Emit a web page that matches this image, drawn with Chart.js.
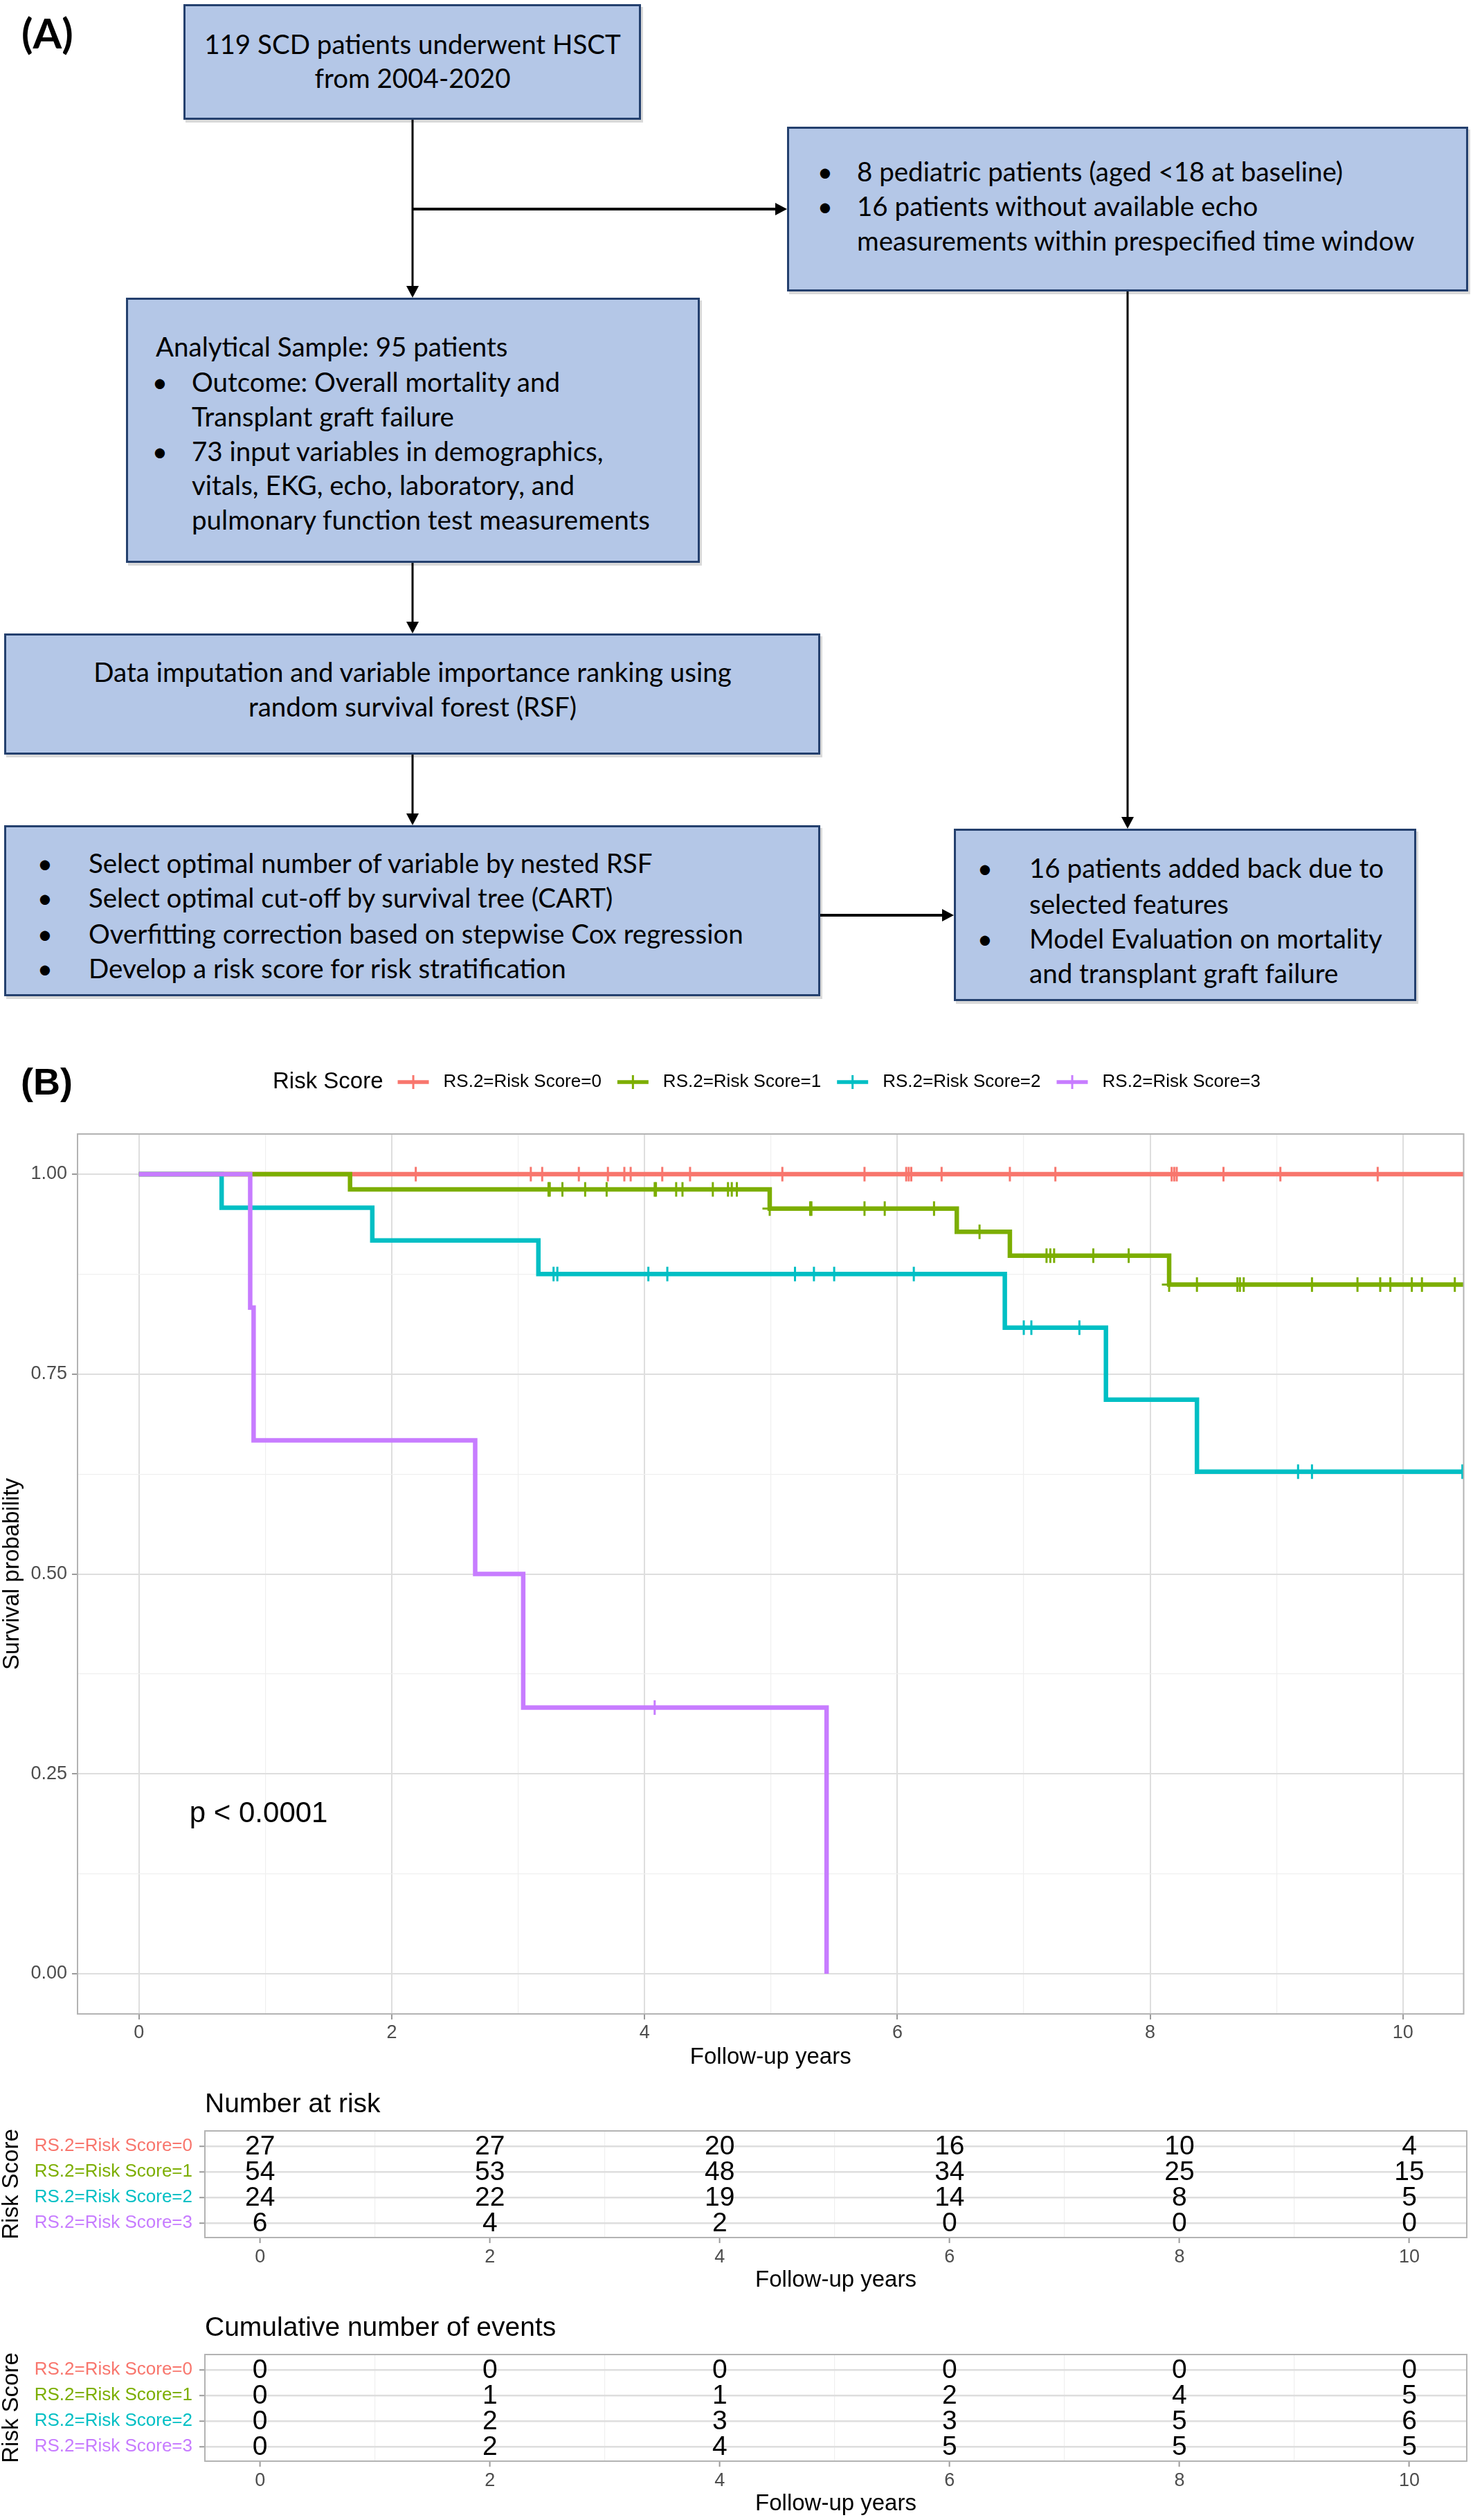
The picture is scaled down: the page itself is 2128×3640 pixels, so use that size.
<!DOCTYPE html>
<html>
<head>
<meta charset="utf-8">
<script src="https://cdn.jsdelivr.net/npm/chart.js@4.4.1/dist/chart.umd.min.js"></script>
<style>
 html,body{margin:0;padding:0;background:#fff;}
 body{position:relative;width:2128px;height:3640px;overflow:hidden;}
 #flow{position:absolute;left:0;top:0;}
 canvas{position:absolute;left:0;}
</style>
</head>
<body>
<svg id="flow" width="2128" height="1480" xmlns="http://www.w3.org/2000/svg"></svg>
<canvas id="km" width="2128" height="1500" style="top:1500px"></canvas>
<canvas id="risk" width="2128" height="330" style="top:3000px"></canvas>
<canvas id="events" width="2128" height="320" style="top:3320px"></canvas>
<script>
// ---------------- DATA ----------------
const groupLabels = ['RS.2=Risk Score=0', 'RS.2=Risk Score=1', 'RS.2=Risk Score=2', 'RS.2=Risk Score=3'];
const groupColors = ['#F8766D', '#7CAE00', '#00BFC4', '#C77CFF'];

// Kaplan-Meier step curves: time of each change and survival from that time on
const kmTime0 = [0, 10.6];
const kmSurv0 = [1, 1];
const kmTime1 = [0, 1.67, 4.99, 6.47, 6.89, 8.15, 10.6];
const kmSurv1 = [1, 0.981, 0.957, 0.928, 0.898, 0.862, 0.862];
const kmTime2 = [0, 0.654, 1.846, 3.16, 6.85, 7.65, 8.37, 10.6];
const kmSurv2 = [1, 0.958, 0.917, 0.875, 0.808, 0.718, 0.628, 0.628];
const kmTime3 = [0, 0.88, 0.907, 2.66, 3.04, 5.44];
const kmSurv3 = [1, 0.833, 0.667, 0.5, 0.333, 0];

// censoring times
const censor0 = [2.19, 3.10, 3.19, 3.48, 3.71, 3.84, 3.89, 4.14, 4.36, 5.09, 5.74, 6.07, 6.09, 6.11, 6.35, 6.89, 7.25, 8.17, 8.19, 8.21, 8.58, 9.03, 9.80];
const censor1 = [3.24, 3.25, 3.35, 3.53, 3.70, 4.08, 4.09, 4.25, 4.30, 4.54, 4.66, 4.69, 4.73, 4.99, 5.31, 5.32, 5.74, 5.90, 6.29, 6.65, 7.18, 7.21, 7.24, 7.55, 7.83, 8.15, 8.37, 8.69, 8.71, 8.74, 9.28, 9.64, 9.82, 9.90, 10.07, 10.15, 10.41];
const censor2 = [3.28, 3.31, 4.03, 4.18, 5.19, 5.34, 5.50, 6.13, 7.00, 7.06, 7.44, 9.17, 9.28, 10.47];
const censor3 = [4.08];

// axis ticks
const xMajor = [0, 2, 4, 6, 8, 10];
const xMinor = [1, 3, 5, 7, 9];
const yMajor = [0, 0.25, 0.5, 0.75, 1];
const yMinor = [0.125, 0.375, 0.625, 0.875];

// tables
const tableTimes = [0, 2, 4, 6, 8, 10];
const atRisk0 = [27, 27, 20, 16, 10, 4];
const atRisk1 = [54, 53, 48, 34, 25, 15];
const atRisk2 = [24, 22, 19, 14, 8, 5];
const atRisk3 = [6, 4, 2, 0, 0, 0];
const events0 = [0, 0, 0, 0, 0, 0];
const events1 = [0, 1, 1, 2, 4, 5];
const events2 = [0, 2, 3, 3, 5, 6];
const events3 = [0, 2, 4, 5, 5, 5];

const pText = 'p < 0.0001';
const pCoord = [0.4, 0.2];

// ---------------- FLOWCHART (panel A) ----------------
const NS = 'http://www.w3.org/2000/svg';
const svg = document.getElementById('flow');
function mk(tag, attrs, parent) { const e = document.createElementNS(NS, tag); for (const k in attrs) e.setAttribute(k, attrs[k]); (parent || svg).appendChild(e); return e; }

const fcLines = [
  [596, 78, '119 SCD patients underwent HSCT', 'middle'],
  [596, 127, 'from 2004-2020', 'middle'],
  [1238, 262, '8 pediatric patients (aged <18 at baseline)'],
  [1238, 312, '16 patients without available echo'],
  [1238, 362, 'measurements within prespecified time window'],
  [225, 515, 'Analytical Sample: 95 patients'],
  [277, 566, 'Outcome: Overall mortality and'],
  [277, 616, 'Transplant graft failure'],
  [277, 666, '73 input variables in demographics,'],
  [277, 715, 'vitals, EKG, echo, laboratory, and'],
  [277, 765, 'pulmonary function test measurements'],
  [596, 985, 'Data imputation and variable importance ranking using', 'middle'],
  [596, 1035, 'random survival forest (RSF)', 'middle'],
  [128, 1261, 'Select optimal number of variable by nested RSF'],
  [128, 1311, 'Select optimal cut-off by survival tree (CART)'],
  [128, 1363, 'Overfitting correction based on stepwise Cox regression'],
  [128, 1413, 'Develop a risk score for risk stratification'],
  [1487, 1268, '16 patients added back due to'],
  [1487, 1320, 'selected features'],
  [1487, 1370, 'Model Evaluation on mortality'],
  [1487, 1420, 'and transplant graft failure']
];
const fcBullets = [[1192, 262], [1192, 312], [231, 566], [231, 666], [65, 1261], [65, 1311], [65, 1363], [65, 1413], [1423, 1268], [1423, 1370]];
const fcBoxes = [[265, 6, 661, 167], [1137, 183, 984, 238], [182, 430, 829, 383], [6, 915, 1179, 175], [6, 1192, 1179, 247], [1378, 1197, 668, 249]];
const fcArrows = [[596, 173, 596, 430, 3], [596, 302, 1137, 302, 4], [596, 813, 596, 915, 3], [596, 1090, 596, 1192, 3], [1629, 421, 1629, 1197, 3], [1185, 1322, 1378, 1322, 4]];

const mctx = document.createElement('canvas').getContext('2d');
mctx.font = '100px Lato';
const fitPairs = [['119 SCD patients underwent HSCT', 579], ['measurements within prespecified time window', 818], ['pulmonary function test measurements', 670], ['Data imputation and variable importance ranking using', 932], ['Overfitting correction based on stepwise Cox regression', 943], ['Model Evaluation on mortality', 514]];
let ratioSum = 0;
fitPairs.forEach(([t, w]) => { ratioSum += w / mctx.measureText(t).width; });
const fcSize = 100 * ratioSum / fitPairs.length;

fcBoxes.forEach(([x, y, w, h]) => {
  mk('rect', { x: x + 3, y: y + 4, width: w, height: h, fill: 'rgba(0,0,0,0.15)' });
  mk('rect', { x: x + 1.5, y: y + 1.5, width: w - 3, height: h - 3, fill: '#B4C7E7', stroke: '#24406E', 'stroke-width': 3 });
});
fcArrows.forEach(([x1, y1, x2, y2, lw]) => {
  const dx = Math.sign(x2 - x1), dy = Math.sign(y2 - y1);
  const L = 17, W = 9;
  mk('line', { x1, y1, x2: x2 - dx * L, y2: y2 - dy * L, stroke: '#000', 'stroke-width': lw });
  const bx = x2 - dx * L, by = y2 - dy * L;
  const pts = [[x2, y2], [bx + dy * W, by + dx * W], [bx - dy * W, by - dx * W]];
  mk('polygon', { points: pts.map(p => p.join(',')).join(' '), fill: '#000' });
});
fcLines.forEach(([x, y, t, anchor]) => {
  const e = mk('text', { x, y, 'font-family': 'Lato, "Open Sans", sans-serif', 'font-size': fcSize.toFixed(2), fill: '#000', 'text-anchor': anchor || 'start' });
  e.textContent = t;
});
fcBullets.forEach(([x, y]) => {
  const e = mk('text', { x, y, 'font-family': 'Lato, "Open Sans", sans-serif', 'font-size': fcSize.toFixed(2), fill: '#000', 'text-anchor': 'middle' });
  e.textContent = '•';
});
const lab = mk('text', { x: 31, y: 70, 'font-family': 'Lato, "Open Sans", sans-serif', 'font-size': 60, 'font-weight': 'bold', fill: '#000' });
lab.textContent = '(A)';

// ---------------- CHARTS (panel B) ----------------
const FONT = '"Liberation Sans", Arial, Helvetica, sans-serif';
Chart.defaults.font.family = FONT;
Chart.defaults.color = '#4D4D4D';

const kmTimes = [kmTime0, kmTime1, kmTime2, kmTime3];
const kmSurvs = [kmSurv0, kmSurv1, kmSurv2, kmSurv3];
const censors = [censor0, censor1, censor2, censor3];

function stepValue(times, surv, t) { let v = surv[0]; for (let i = 0; i < times.length; i++) { if (times[i] <= t) v = surv[i]; } return v; }
const isMajorX = v => xMajor.includes(v);
const isMajorY = v => yMajor.some(m => Math.abs(m - v) < 1e-9);

const kmDatasets = [];
for (let g = 0; g < 4; g++) {
  kmDatasets.push({
    label: groupLabels[g],
    data: kmTimes[g].map((t, i) => ({ x: t, y: kmSurvs[g][i] })),
    borderColor: groupColors[g], backgroundColor: groupColors[g],
    borderWidth: 6.5, stepped: true, pointRadius: 0, fill: false,
    borderCapStyle: 'butt', borderJoinStyle: 'miter',
    order: 4 - g, clip: 0
  });
}
for (let g = 0; g < 4; g++) {
  kmDatasets.push({
    label: groupLabels[g] + ' censored',
    data: censors[g].map(t => ({ x: t, y: stepValue(kmTimes[g], kmSurvs[g], t) })),
    showLine: false, pointStyle: 'cross', pointRadius: 10.5, pointBorderWidth: 3,
    borderColor: groupColors[g], pointBorderColor: groupColors[g], backgroundColor: groupColors[g],
    order: 0, clip: 0
  });
}

const kmDecor = {
  id: 'kmDecor',
  afterDraw(chart) {
    const { ctx, chartArea: a, scales } = chart;
    const x = scales.x, y = scales.y;
    ctx.save();
    ctx.strokeStyle = '#B3B3B3'; ctx.lineWidth = 2;
    ctx.strokeRect(a.left, a.top, a.right - a.left, a.bottom - a.top);
    ctx.fillStyle = '#000';
    ctx.textAlign = 'center'; ctx.textBaseline = 'middle';
    ctx.font = '33px ' + FONT;
    ctx.fillText('Follow-up years', (a.left + a.right) / 2, a.bottom + 63);
    ctx.save(); ctx.translate(18, (a.top + a.bottom) / 2); ctx.rotate(-Math.PI / 2);
    ctx.fillText('Survival probability', 0, 0); ctx.restore();
    ctx.textAlign = 'left';
    ctx.font = '42px ' + FONT;
    ctx.fillText(pText, x.getPixelForValue(pCoord[0]), y.getPixelForValue(pCoord[1]));
    ctx.font = 'bold 54px ' + FONT;
    ctx.fillText('(B)', 30, 66);
    // legend
    const ly = 63;
    ctx.font = '33px ' + FONT;
    ctx.fillText('Risk Score', 394, ly);
    let lx = 394 + ctx.measureText('Risk Score').width + 21;
    ctx.font = '26px ' + FONT;
    for (let g = 0; g < 4; g++) {
      ctx.strokeStyle = groupColors[g];
      ctx.lineWidth = 5.5; ctx.beginPath(); ctx.moveTo(lx, ly); ctx.lineTo(lx + 45, ly); ctx.stroke();
      ctx.lineWidth = 3; ctx.beginPath(); ctx.moveTo(lx + 22.5, ly - 10); ctx.lineTo(lx + 22.5, ly + 10); ctx.stroke();
      ctx.fillStyle = '#000';
      ctx.fillText(groupLabels[g], lx + 66, ly);
      lx += 66 + ctx.measureText(groupLabels[g]).width + 23;
    }
    ctx.restore();
  }
};

new Chart(document.getElementById('km'), {
  type: 'line',
  data: { datasets: kmDatasets },
  options: {
    responsive: false, animation: false, devicePixelRatio: 1, events: [],
    layout: { padding: { top: 138, right: 9, left: 0, bottom: 0 } },
    plugins: { legend: { display: false }, tooltip: { enabled: false } },
    scales: {
      x: {
        type: 'linear', min: -0.486, max: 10.48,
        afterBuildTicks: s => { s.ticks = xMajor.concat(xMinor).sort((a, b) => a - b).map(v => ({ value: v })); },
        afterFit: s => { s.height = 91; },
        ticks: { autoSkip: false, maxRotation: 0, padding: 3, color: '#4D4D4D', font: { size: 27 }, callback: v => isMajorX(v) ? String(v) : '' },
        grid: {
          color: c => (c.tick && isMajorX(c.tick.value)) ? '#DEDEDE' : '#EFEFEF',
          lineWidth: c => (c.tick && isMajorX(c.tick.value)) ? 2 : 1.2,
          tickColor: c => (c.tick && isMajorX(c.tick.value)) ? '#9A9A9A' : 'rgba(0,0,0,0)',
          tickLength: 8, tickWidth: 2
        },
        border: { display: false }
      },
      y: {
        type: 'linear', min: -0.0502, max: 1.0502,
        afterBuildTicks: s => { s.ticks = yMajor.concat(yMinor).sort((a, b) => a - b).map(v => ({ value: v })); },
        afterFit: s => { s.width = 112; },
        ticks: { autoSkip: false, padding: 7, color: '#4D4D4D', font: { size: 27 }, callback: v => isMajorY(v) ? v.toFixed(2) : '' },
        grid: {
          color: c => (c.tick && isMajorY(c.tick.value)) ? '#DEDEDE' : '#EFEFEF',
          lineWidth: c => (c.tick && isMajorY(c.tick.value)) ? 2 : 1.2,
          tickColor: c => (c.tick && isMajorY(c.tick.value)) ? '#9A9A9A' : 'rgba(0,0,0,0)',
          tickLength: 8, tickWidth: 2
        },
        border: { display: false }
      }
    }
  },
  plugins: [kmDecor]
});

function makeTable(canvasId, title, rows, padTop, axisH) {
  const datasets = rows.map((vals, g) => ({
    label: groupLabels[g],
    data: tableTimes.map((t, j) => ({ x: t, y: g, n: vals[j] })),
    showLine: false, pointRadius: 0, borderColor: groupColors[g]
  }));
  const decor = {
    id: 'tblDecor',
    afterDraw(chart) {
      const { ctx, chartArea: a } = chart;
      ctx.save();
      ctx.fillStyle = '#000'; ctx.textAlign = 'center'; ctx.textBaseline = 'middle';
      ctx.font = '39px ' + FONT;
      chart.data.datasets.forEach((ds, i) => {
        const meta = chart.getDatasetMeta(i);
        meta.data.forEach((pt, j) => { ctx.fillText(String(ds.data[j].n), pt.x, pt.y + 1); });
      });
      ctx.strokeStyle = '#B3B3B3'; ctx.lineWidth = 2;
      ctx.strokeRect(a.left, a.top, a.right - a.left, a.bottom - a.top);
      ctx.font = '33px ' + FONT;
      ctx.fillText('Follow-up years', (a.left + a.right) / 2, a.bottom + 62);
      ctx.save(); ctx.translate(17, (a.top + a.bottom) / 2); ctx.rotate(-Math.PI / 2);
      ctx.fillText('Risk Score', 0, 0); ctx.restore();
      ctx.textAlign = 'left';
      ctx.font = '39px ' + FONT;
      ctx.fillText(title, a.left, a.top - 38);
      ctx.restore();
    }
  };
  new Chart(document.getElementById(canvasId), {
    type: 'line',
    data: { datasets },
    options: {
      responsive: false, animation: false, devicePixelRatio: 1, events: [],
      layout: { padding: { top: padTop, right: 9, left: 0, bottom: 0 } },
      plugins: { legend: { display: false }, tooltip: { enabled: false } },
      scales: {
        x: {
          type: 'linear', min: -0.48, max: 10.5,
          afterBuildTicks: s => { s.ticks = xMajor.concat(xMinor).sort((a, b) => a - b).map(v => ({ value: v })); },
          afterFit: s => { s.height = axisH; },
          ticks: { autoSkip: false, maxRotation: 0, padding: 4, color: '#4D4D4D', font: { size: 27 }, callback: v => isMajorX(v) ? String(v) : '' },
          grid: {
            color: c => (c.tick && isMajorX(c.tick.value)) ? 'rgba(0,0,0,0)' : '#EFEFEF',
            lineWidth: 1.2,
            tickColor: c => (c.tick && isMajorX(c.tick.value)) ? '#9A9A9A' : 'rgba(0,0,0,0)',
            tickLength: 8, tickWidth: 2
          },
          border: { display: false }
        },
        y: {
          type: 'linear', min: -0.59, max: 3.57, reverse: true,
          afterBuildTicks: s => { s.ticks = [0, 1, 2, 3].map(v => ({ value: v })); },
          afterFit: s => { s.width = 296; },
          ticks: { autoSkip: false, padding: 10, font: { size: 26 }, color: c => groupColors[c.tick.value], callback: v => groupLabels[v] },
          grid: { color: '#DEDEDE', lineWidth: 2.5, tickColor: '#9A9A9A', tickLength: 8, tickWidth: 2 },
          border: { display: false }
        }
      }
    },
    plugins: [decor]
  });
}

makeTable('risk', 'Number at risk', [atRisk0, atRisk1, atRisk2, atRisk3], 78, 98);
makeTable('events', 'Cumulative number of events', [events0, events1, events2, events3], 81, 85);
</script>
</body>
</html>
